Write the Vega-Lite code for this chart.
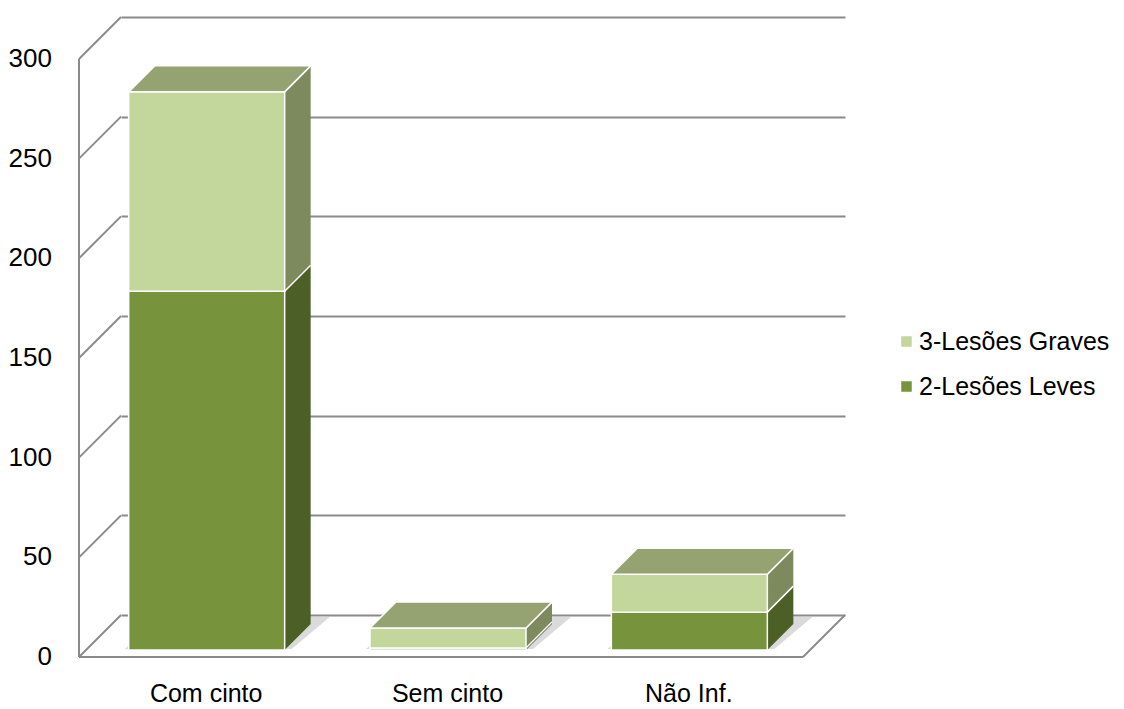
{
  "$schema": "https://vega.github.io/schema/vega-lite/v6.json",
  "width": 724,
  "height": 598,
  "autosize": "none",
  "padding": {"left": 121, "top": 17, "right": 279, "bottom": 94},
  "background": "white",
  "config": {"view": {"stroke": null}, "font": "Liberation Sans"},
  "datasets": {
    "main": [
      {"cat": "Com cinto", "series": "2-Lesões Leves", "value": 180},
      {"cat": "Com cinto", "series": "3-Lesões Graves", "value": 100},
      {"cat": "Sem cinto", "series": "2-Lesões Leves", "value": 1},
      {"cat": "Sem cinto", "series": "3-Lesões Graves", "value": 10},
      {"cat": "Não Inf.", "series": "2-Lesões Leves", "value": 19},
      {"cat": "Não Inf.", "series": "3-Lesões Graves", "value": 19}
    ],
    "ticks": [{"t": 0}, {"t": 50}, {"t": 100}, {"t": 150}, {"t": 200}, {"t": 250}, {"t": 300}]
  },
  "data": {"name": "main"},
  "transform": [
    {"stack": "value", "groupby": ["cat"], "sort": [{"field": "series", "order": "ascending"}], "as": ["v0", "v1"]}
  ],
  "resolve": {"axis": {"x": "independent", "y": "independent"}},
  "layer": [
    {
      "data": {"name": "ticks"},
      "mark": {"type": "point", "shape": "M-1,1L1,-1", "size": 1764, "filled": false, "color": "#8a8a8a", "strokeWidth": 2, "opacity": 1, "xOffset": -21, "yOffset": 21},
      "encoding": {
        "x": {"datum": "Com cinto", "type": "nominal", "bandPosition": 0, "scale": {"type": "band", "domain": ["Com cinto", "Sem cinto", "Não Inf."], "paddingInner": 0, "paddingOuter": 0}, "axis": null},
        "y": {"field": "t", "type": "quantitative", "scale": {"domain": [0, 300], "nice": false}, "axis": {"orient": "left", "grid": true, "gridColor": "#8a8a8a", "gridWidth": 2, "labels": false, "ticks": false, "domain": false, "values": [0, 50, 100, 150, 200, 250, 300], "title": null}}
      }
    },
    {
      "data": {"values": [{}]},
      "mark": {"type": "point", "shape": "M-1,1L1,-1", "size": 1764, "filled": false, "color": "#8a8a8a", "strokeWidth": 2, "opacity": 1, "xOffset": -21, "yOffset": 21},
      "encoding": {
        "x": {"datum": "Não Inf.", "type": "nominal", "bandPosition": 1, "scale": {"type": "band", "domain": ["Com cinto", "Sem cinto", "Não Inf."], "paddingInner": 0, "paddingOuter": 0}, "axis": null},
        "y": {"datum": 0, "type": "quantitative", "scale": {"domain": [0, 300], "nice": false}, "axis": null}
      }
    },
    {
      "transform": [{"filter": "datum.series === '2-Lesões Leves'"}],
      "mark": {"type": "point", "shape": "M-6.375,1L4.0625,1L6.4375,-1L-4.0625,-1Z", "size": 1024, "filled": true, "color": "#dadada", "strokeWidth": 0, "opacity": 1, "xOffset": -15, "yOffset": 18},
      "encoding": {
        "x": {"field": "cat", "type": "nominal", "scale": {"type": "band", "domain": ["Com cinto", "Sem cinto", "Não Inf."], "paddingInner": 0, "paddingOuter": 0}, "axis": null},
        "y": {"field": "v0", "type": "quantitative", "scale": {"domain": [0, 300], "nice": false}, "axis": null}
      }
    },
    {
      "mark": {"type": "bar", "width": 26, "xOffset": 56, "yOffset": 9, "y2Offset": 9},
      "encoding": {
        "x": {"field": "cat", "type": "nominal", "scale": {"type": "band", "domain": ["Com cinto", "Sem cinto", "Não Inf."], "paddingInner": 0, "paddingOuter": 0}, "axis": null},
        "y": {"field": "v1", "type": "quantitative", "scale": {"domain": [0, 300], "nice": false}, "axis": null},
        "y2": {"field": "v0"},
        "fill": {"field": "series", "type": "nominal", "scale": {"domain": ["2-Lesões Leves", "3-Lesões Graves"], "range": ["#4C5F27", "#7D8A5D"]}, "legend": null}
      }
    },
    {
      "mark": {"type": "point", "shape": "M-1,-1L-1,1L1,-1Z", "size": 676, "filled": true, "opacity": 1, "strokeWidth": 0, "xOffset": 56, "yOffset": 22},
      "encoding": {
        "x": {"field": "cat", "type": "nominal", "scale": {"type": "band", "domain": ["Com cinto", "Sem cinto", "Não Inf."], "paddingInner": 0, "paddingOuter": 0}, "axis": null},
        "y": {"field": "v0", "type": "quantitative", "scale": {"domain": [0, 300], "nice": false}, "axis": null},
        "fill": {"field": "series", "type": "nominal", "scale": {"domain": ["2-Lesões Leves", "3-Lesões Graves"], "range": ["#4C5F27", "#7D8A5D"]}, "legend": null},
        "order": {"field": "series", "type": "nominal", "sort": "ascending"}
      }
    },
    {
      "mark": {"type": "point", "shape": "M-1,1L1,-1", "size": 676, "filled": false, "color": "white", "strokeWidth": 1.5, "opacity": 1, "xOffset": 56, "yOffset": 22},
      "encoding": {
        "x": {"field": "cat", "type": "nominal", "scale": {"type": "band", "domain": ["Com cinto", "Sem cinto", "Não Inf."], "paddingInner": 0, "paddingOuter": 0}, "axis": null},
        "y": {"field": "v1", "type": "quantitative", "scale": {"domain": [0, 300], "nice": false}, "axis": null}
      }
    },
    {
      "mark": {"type": "bar", "width": 156, "xOffset": -35, "yOffset": 35, "y2Offset": 35, "stroke": "white", "strokeWidth": 1.5},
      "encoding": {
        "x": {"field": "cat", "type": "nominal", "scale": {"type": "band", "domain": ["Com cinto", "Sem cinto", "Não Inf."], "paddingInner": 0, "paddingOuter": 0},
              "axis": {"orient": "bottom", "title": null, "translate": -42, "offset": 84, "labelOffset": 7, "labelPadding": 25, "ticks": false, "tickSize": 0, "grid": false, "labelAngle": 0, "domainColor": "#8a8a8a", "domainWidth": 2, "labelFontSize": 25, "labelFont": "Liberation Sans", "labelColor": "#000000"}},
        "y": {"field": "v1", "type": "quantitative", "scale": {"domain": [0, 300], "nice": false},
              "axis": {"orient": "left", "title": null, "translate": 42, "offset": 84, "grid": false, "ticks": false, "tickSize": 0, "labelPadding": 27, "values": [0, 50, 100, 150, 200, 250, 300], "domainColor": "#8a8a8a", "domainWidth": 2, "labelFontSize": 26, "labelFont": "Liberation Sans", "labelColor": "#000000"}},
        "y2": {"field": "v0"},
        "color": {"field": "series", "type": "nominal", "scale": {"domain": ["3-Lesões Graves", "2-Lesões Leves"], "range": ["#C3D69B", "#77933C"]},
                  "legend": {"orient": "none", "legendX": 773, "legendY": 312, "title": null, "symbolType": "square", "symbolSize": 110, "symbolStrokeWidth": 0, "labelFontSize": 25, "labelFont": "Liberation Sans", "labelColor": "#000000", "labelOffset": 0, "labelLimit": 0, "rowPadding": 19, "padding": 0}}
      }
    },
    {
      "transform": [{"filter": "datum.series === '3-Lesões Graves'"}],
      "mark": {"type": "point", "shape": "M-7,1L5,1L7,-1L-5,-1Z", "size": 676, "filled": true, "color": "#95A373", "stroke": "white", "strokeWidth": 1.5, "opacity": 1, "xOffset": -22, "yOffset": 22},
      "encoding": {
        "x": {"field": "cat", "type": "nominal", "scale": {"type": "band", "domain": ["Com cinto", "Sem cinto", "Não Inf."], "paddingInner": 0, "paddingOuter": 0}, "axis": null},
        "y": {"field": "v1", "type": "quantitative", "scale": {"domain": [0, 300], "nice": false}, "axis": null}
      }
    }
  ]
}
